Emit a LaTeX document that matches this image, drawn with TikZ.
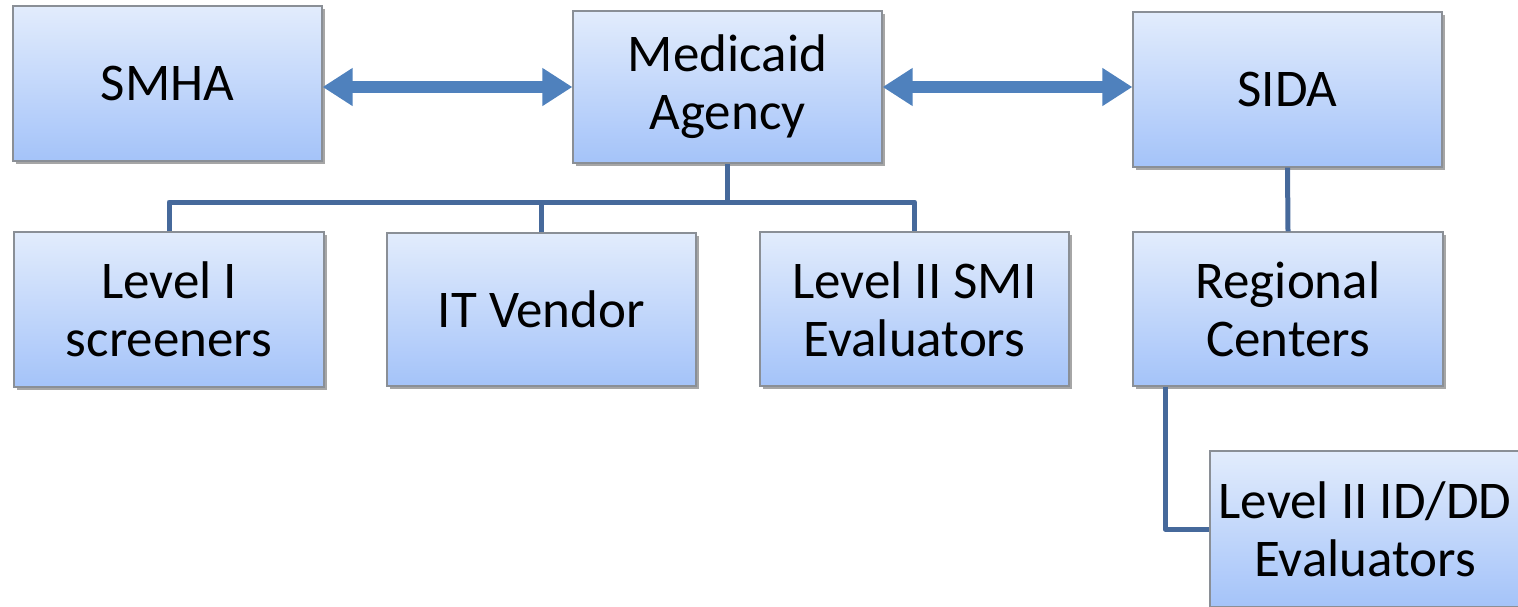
\documentclass[tikz,border=0pt]{standalone}
\usepackage{fontspec}
\setmainfont{Carlito}
\usetikzlibrary{shadows,arrows.meta}
\definecolor{boxtop}{HTML}{E2ECFC}
\definecolor{boxbot}{HTML}{A4C3F9}
\definecolor{boxline}{HTML}{8A8F96}
\definecolor{connc}{HTML}{46699B}
\definecolor{arrc}{HTML}{4F81BD}
\tikzset{
  orgbox/.style={draw=boxline, line width=1.2pt, top color=boxtop, bottom color=boxbot,
    minimum width=309pt, minimum height=154pt, inner sep=0pt, align=center,
    font=\fontsize{53}{58}\selectfont,
    drop shadow={shadow xshift=2.5pt, shadow yshift=-2.5pt, opacity=0.35, fill=black}},
  conn/.style={draw=connc, line width=5pt, line join=round},
  dbl/.style={draw=arrc, line width=12pt,
    {Triangle[length=30pt,width=36pt]}-{Triangle[length=30pt,width=36pt]}},
}
\begin{document}
\begin{tikzpicture}[x=1pt,y=-1pt]
\useasboundingbox (0,0) rectangle (1518,606);
\node[orgbox, minimum height=155pt] (smha) at (167.5,83.5) {SMHA};
\node[orgbox, minimum height=152pt] (med) at (727.5,87) {Medicaid\\Agency};
\node[orgbox, minimum height=155pt] (sida) at (1287.5,89.5) {SIDA};
\node[orgbox, minimum width=310pt, minimum height=155pt] (l1) at (169,309.5) {Level I\\screeners};
\node[orgbox, minimum height=153pt] (it) at (541.5,309.5) {IT Vendor};
\node[orgbox] (smi) at (914.5,309) {Level II SMI\\Evaluators};
\node[orgbox, minimum width=310pt] (reg) at (1288,309) {Regional\\Centers};
\node[orgbox, minimum width=310pt, minimum height=156pt] (idd) at (1365,529) {Level II ID/DD\\Evaluators};
\draw[dbl] (smha.east |- med.west) -- (med.west);
\draw[dbl] (med.east) -- (sida.west |- med.east);
\draw[conn] (l1.north) -- (l1.north |- 0,202) -- (smi.north |- 0,202) -- (smi.north);
\draw[conn] (med.south) -- (med.south |- 0,202);
\draw[conn] (it.north) -- (it.north |- 0,202);
\draw[conn] (sida.south) -- (reg.north);
\draw[conn] (reg.south -| 1165,0) |- (idd.west);
\end{tikzpicture}
\end{document}
